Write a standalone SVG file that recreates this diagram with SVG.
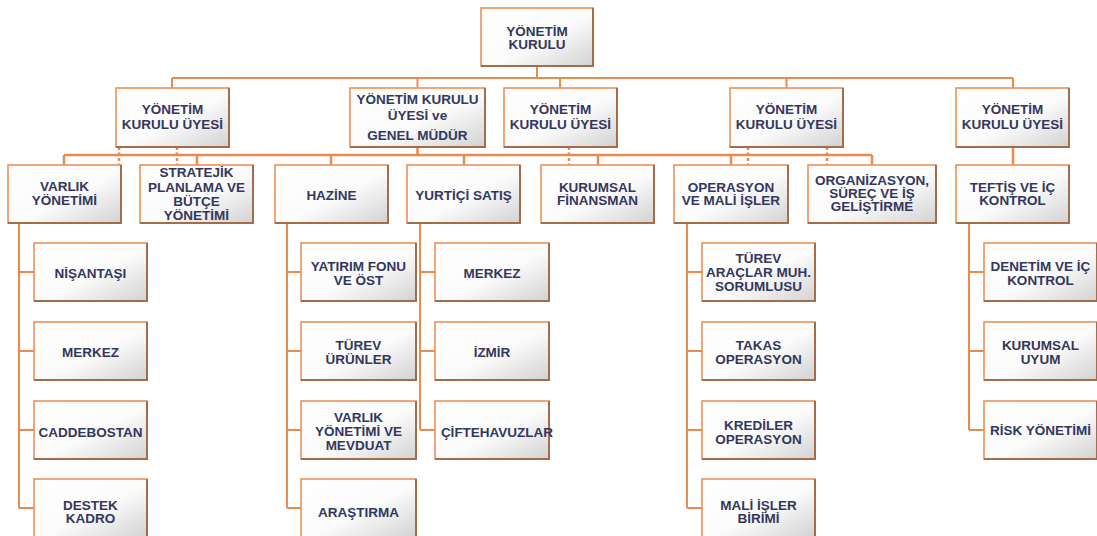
<svg xmlns="http://www.w3.org/2000/svg" width="1097" height="536" viewBox="0 0 1097 536">
<defs>
<linearGradient id="g" x1="0" y1="0" x2="1" y2="1">
<stop offset="0" stop-color="#ffffff"/>
<stop offset="0.55" stop-color="#fbfbfb"/>
<stop offset="1" stop-color="#d2d2d2"/>
</linearGradient>
<style>
.b{fill:url(#g);stroke:#ec9157;stroke-width:1.6}
.sh{fill:none;stroke:#a46c48;stroke-width:2}
text{font-family:"Liberation Sans",Arial,sans-serif;font-weight:bold;font-size:13.5px;fill:#33375e;text-anchor:middle}
.ln{stroke:#e98b4e;stroke-width:2;fill:none}
.dot{stroke:#e98b4e;stroke-width:2.5;stroke-dasharray:3 2.5;fill:none}
</style>
</defs>
<rect width="1097" height="536" fill="#ffffff"/>
<g id="connectors">
<path class="ln" d="M537,66V78M172,78H1013M172,78V88M417.5,78V88M560,78V88M786.5,78V88M1013,78V88"/>
<path class="ln" d="M417.5,147V155M64,155H872M64,155V165M197,155V165M331,155V165M464,155V165M598,155V165M731,155V165M872,155V165M1013,147V165" style="stroke-width:2.5"/>
<path class="dot" d="M119,147V172M177,147V165M569,147V167M748,147V167M827,147V167"/>
<path class="ln" d="M19,223V508M19,272H34M19,351H34M19,430H34M19,508H34"/>
<path class="ln" d="M287,223V508M287,272H301M287,351H301M287,430H301M287,508H301"/>
<path class="ln" d="M420,223V430M420,272H435M420,351H435M420,430H435"/>
<path class="ln" d="M687,223V508M687,272H702M687,351H702M687,430H702M687,508H702"/>
<path class="ln" d="M969,223V430M969,272H984M969,351H984M969,430H984"/>
</g>
<g id="n-top"><rect class="b" x="481" y="8" width="112" height="58"/><path class="sh" d="M593,8V66H481"/><text x="537" y="35.5">YÖNETİM</text><text x="537" y="48.5">KURULU</text></g>
<g id="n-a"><rect class="b" x="116" y="88" width="113" height="59"/><path class="sh" d="M229,88V147H116"/><text x="172.5" y="113.5">YÖNETİM</text><text x="172.5" y="129">KURULU ÜYESİ</text></g>
<g id="n-b"><rect class="b" x="350" y="88" width="135" height="59"/><path class="sh" d="M485,88V147H350"/><text x="417.5" y="104">YÖNETİM KURULU</text><text x="417.5" y="119.5">ÜYESİ ve</text><text x="417.5" y="140">GENEL MÜDÜR</text></g>
<g id="n-c"><rect class="b" x="504" y="88" width="113" height="59"/><path class="sh" d="M617,88V147H504"/><text x="560.5" y="113.5">YÖNETİM</text><text x="560.5" y="129">KURULU ÜYESİ</text></g>
<g id="n-d"><rect class="b" x="730" y="88" width="113" height="59"/><path class="sh" d="M843,88V147H730"/><text x="786.5" y="113.5">YÖNETİM</text><text x="786.5" y="129">KURULU ÜYESİ</text></g>
<g id="n-e"><rect class="b" x="956" y="88" width="113" height="59"/><path class="sh" d="M1069,88V147H956"/><text x="1012.5" y="113.5">YÖNETİM</text><text x="1012.5" y="129">KURULU ÜYESİ</text></g>
<g id="n-varlik"><rect class="b" x="8" y="165" width="113" height="58"/><path class="sh" d="M121,165V223H8"/><text x="64.5" y="191">VARLIK</text><text x="64.5" y="205">YÖNETİMİ</text></g>
<g id="n-stratejik"><rect class="b" x="140" y="165" width="113" height="58"/><path class="sh" d="M253,165V223H140"/><text x="196.5" y="177">STRATEJİK</text><text x="196.5" y="191.5">PLANLAMA VE</text><text x="196.5" y="205.5">BÜTÇE</text><text x="196.5" y="219.5">YÖNETİMİ</text></g>
<g id="n-hazine"><rect class="b" x="275" y="165" width="113" height="58"/><path class="sh" d="M388,165V223H275"/><text x="331.5" y="199.5">HAZİNE</text></g>
<g id="n-yurtici"><rect class="b" x="407" y="165" width="113" height="58"/><path class="sh" d="M520,165V223H407"/><text x="463.5" y="199.5">YURTİÇİ SATIŞ</text></g>
<g id="n-kurumsal"><rect class="b" x="541" y="165" width="113" height="58"/><path class="sh" d="M654,165V223H541"/><text x="597.5" y="192">KURUMSAL</text><text x="597.5" y="205">FİNANSMAN</text></g>
<g id="n-operasyon"><rect class="b" x="674" y="165" width="114" height="58"/><path class="sh" d="M788,165V223H674"/><text x="731" y="192">OPERASYON</text><text x="731" y="205">VE MALİ İŞLER</text></g>
<g id="n-organizasyon"><rect class="b" x="808" y="165" width="128" height="58"/><path class="sh" d="M936,165V223H808"/><text x="872" y="185">ORGANİZASYON,</text><text x="872" y="198">SÜREÇ VE İŞ</text><text x="872" y="211">GELİŞTİRME</text></g>
<g id="n-teftis"><rect class="b" x="956" y="165" width="113" height="58"/><path class="sh" d="M1069,165V223H956"/><text x="1012.5" y="192">TEFTİŞ VE İÇ</text><text x="1012.5" y="205">KONTROL</text></g>
<g id="n-nisantasi"><rect class="b" x="34" y="243" width="113" height="58"/><path class="sh" d="M147,243V301H34"/><text x="90.5" y="278">NİŞANTAŞI</text></g>
<g id="n-merkez1"><rect class="b" x="34" y="322" width="113" height="58"/><path class="sh" d="M147,322V380H34"/><text x="90.5" y="357">MERKEZ</text></g>
<g id="n-caddebostan"><rect class="b" x="34" y="401" width="113" height="58"/><path class="sh" d="M147,401V459H34"/><text x="90.5" y="437">CADDEBOSTAN</text></g>
<g id="n-destek"><rect class="b" x="34" y="479" width="113" height="58"/><path class="sh" d="M147,479V537H34"/><text x="90.5" y="510">DESTEK</text><text x="90.5" y="523">KADRO</text></g>
<g id="n-yatirim"><rect class="b" x="301" y="243" width="115" height="58"/><path class="sh" d="M416,243V301H301"/><text x="358.5" y="271">YATIRIM FONU</text><text x="358.5" y="285">VE ÖST</text></g>
<g id="n-turev1"><rect class="b" x="301" y="322" width="115" height="58"/><path class="sh" d="M416,322V380H301"/><text x="358.5" y="350">TÜREV</text><text x="358.5" y="364">ÜRÜNLER</text></g>
<g id="n-varlik2"><rect class="b" x="301" y="401" width="115" height="58"/><path class="sh" d="M416,401V459H301"/><text x="358.5" y="422">VARLIK</text><text x="358.5" y="436">YÖNETİMİ VE</text><text x="358.5" y="450">MEVDUAT</text></g>
<g id="n-arastirma"><rect class="b" x="301" y="479" width="115" height="58"/><path class="sh" d="M416,479V537H301"/><text x="358.5" y="516.5">ARAŞTIRMA</text></g>
<g id="n-merkez2"><rect class="b" x="435" y="243" width="114" height="58"/><path class="sh" d="M549,243V301H435"/><text x="492" y="278">MERKEZ</text></g>
<g id="n-izmir"><rect class="b" x="435" y="322" width="114" height="58"/><path class="sh" d="M549,322V380H435"/><text x="492" y="357">İZMİR</text></g>
<g id="n-ciftehavuzlar"><rect class="b" x="435" y="401" width="114" height="58"/><path class="sh" d="M549,401V459H435"/><text x="497" y="437">ÇİFTEHAVUZLAR</text></g>
<g id="n-turev2"><rect class="b" x="702" y="243" width="113" height="58"/><path class="sh" d="M815,243V301H702"/><text x="758.5" y="263">TÜREV</text><text x="758.5" y="277">ARAÇLAR MUH.</text><text x="758.5" y="291">SORUMLUSU</text></g>
<g id="n-takas"><rect class="b" x="702" y="322" width="113" height="58"/><path class="sh" d="M815,322V380H702"/><text x="758.5" y="350">TAKAS</text><text x="758.5" y="364">OPERASYON</text></g>
<g id="n-krediler"><rect class="b" x="702" y="401" width="113" height="58"/><path class="sh" d="M815,401V459H702"/><text x="758.5" y="430">KREDİLER</text><text x="758.5" y="443.5">OPERASYON</text></g>
<g id="n-mali"><rect class="b" x="702" y="479" width="113" height="58"/><path class="sh" d="M815,479V537H702"/><text x="758.5" y="510">MALİ İŞLER</text><text x="758.5" y="523">BİRİMİ</text></g>
<g id="n-denetim"><rect class="b" x="984" y="243" width="113" height="58"/><path class="sh" d="M1097,243V301H984"/><text x="1040.5" y="271">DENETİM VE İÇ</text><text x="1040.5" y="285">KONTROL</text></g>
<g id="n-uyum"><rect class="b" x="984" y="322" width="113" height="58"/><path class="sh" d="M1097,322V380H984"/><text x="1040.5" y="350">KURUMSAL</text><text x="1040.5" y="364">UYUM</text></g>
<g id="n-risk"><rect class="b" x="984" y="401" width="113" height="58"/><path class="sh" d="M1097,401V459H984"/><text x="1040.5" y="435">RİSK YÖNETİMİ</text></g>
</svg>
